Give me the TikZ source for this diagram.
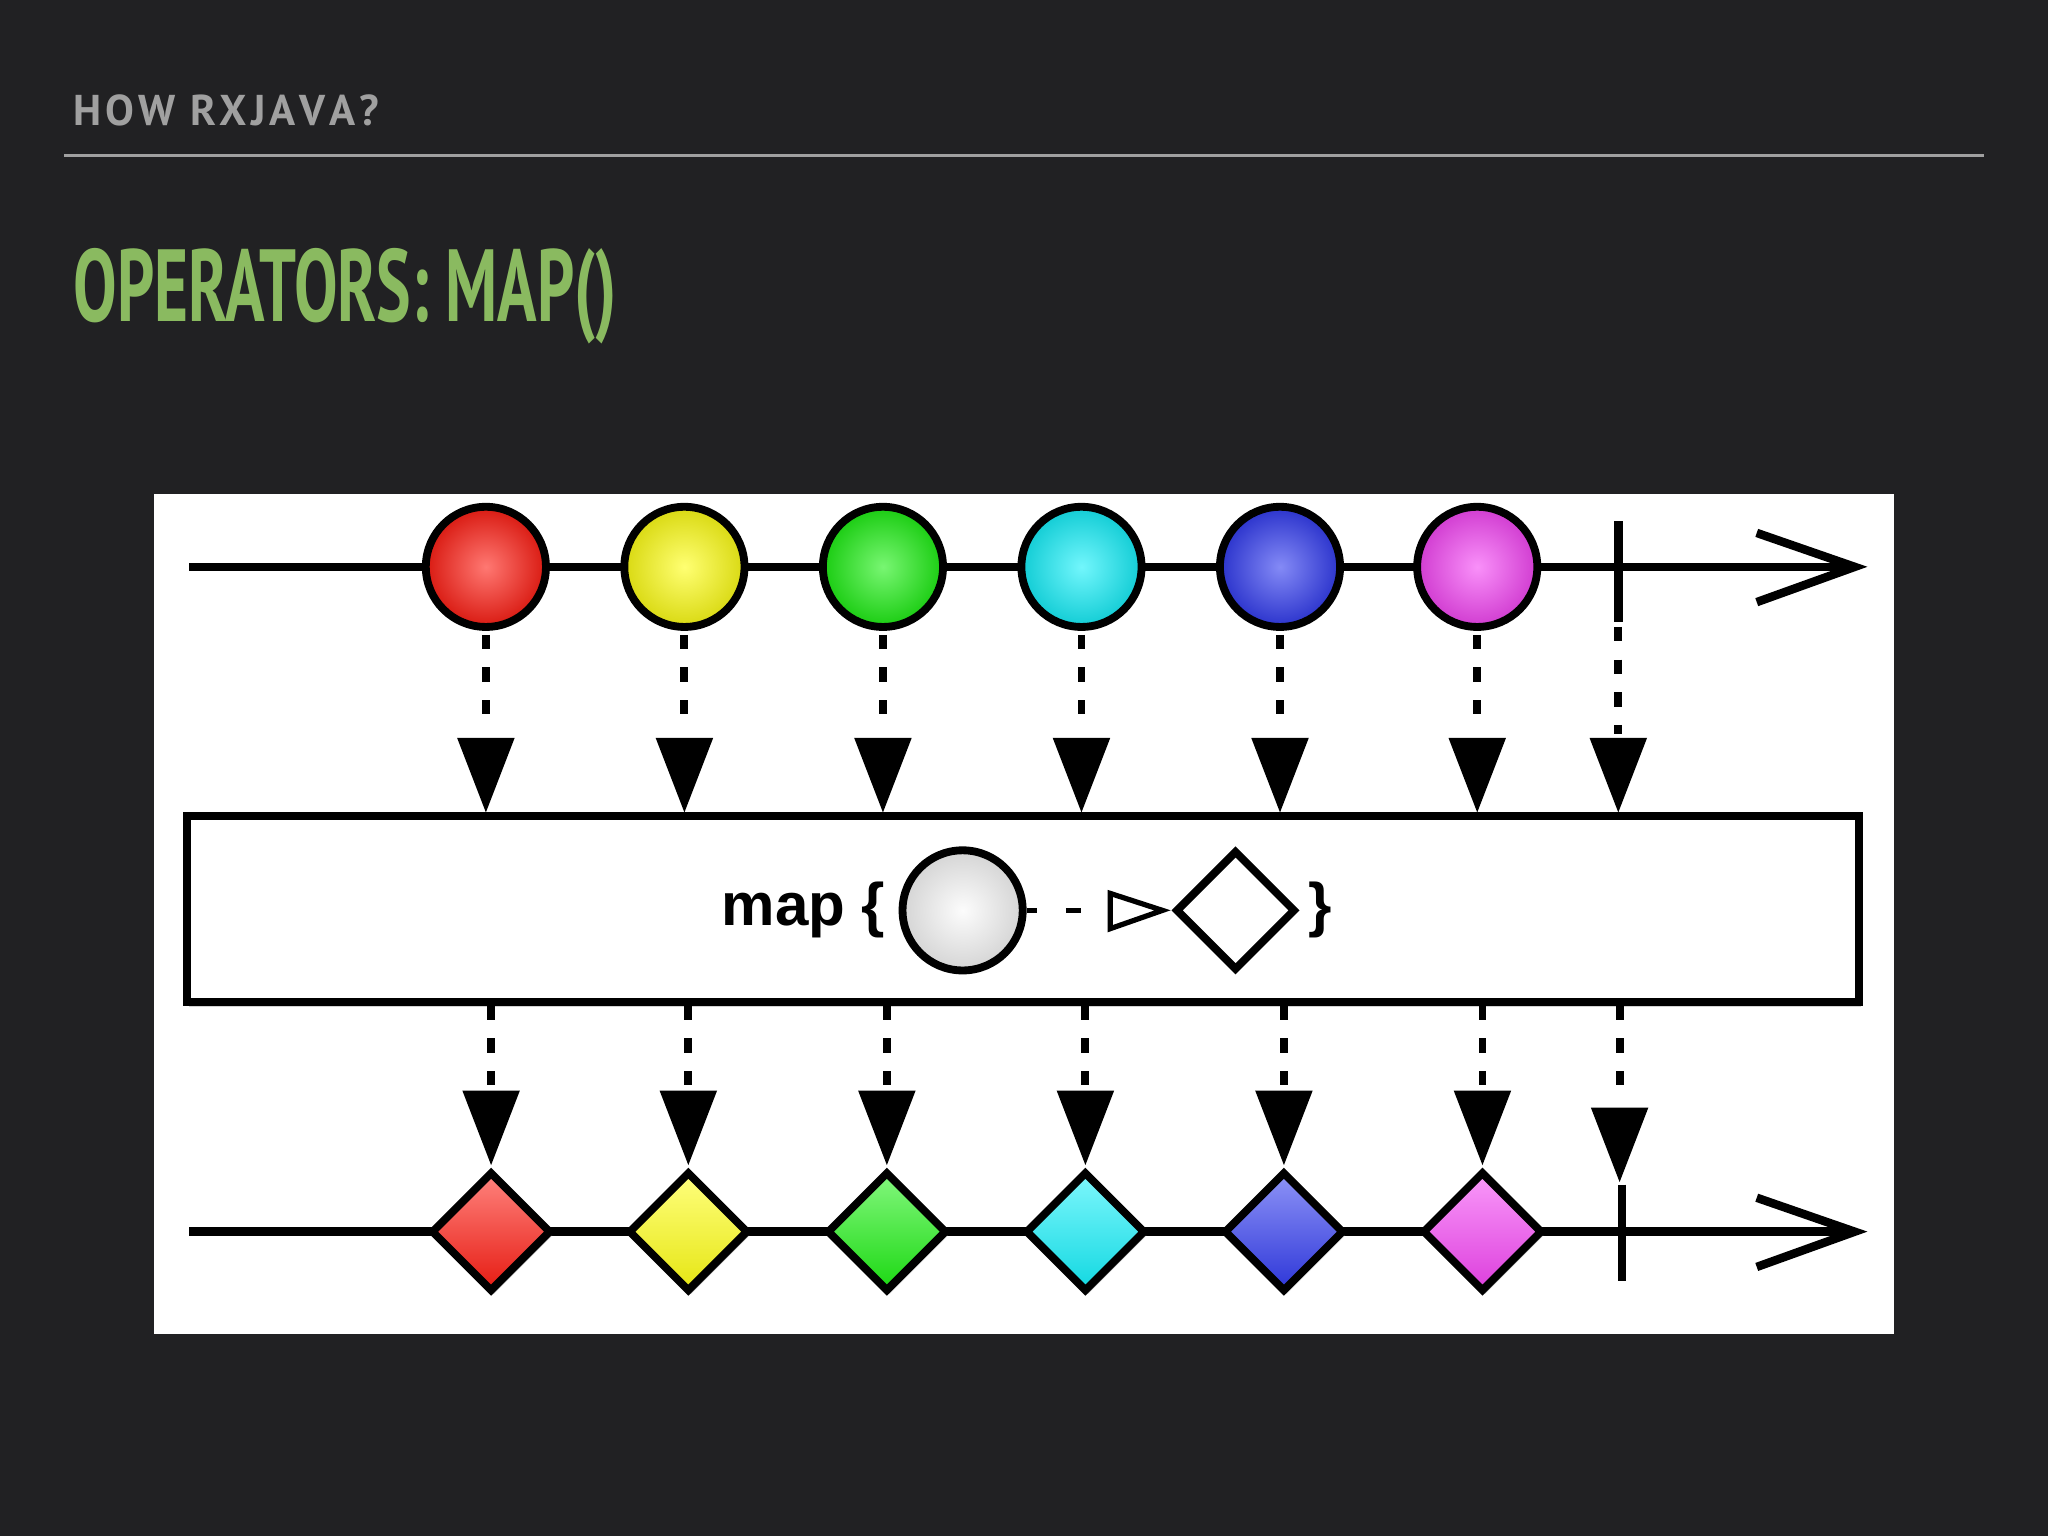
\documentclass[tikz,border=0pt]{standalone}
\usepackage{fontspec}
\setmainfont{Liberation Sans}
\newfontfamily\ptsans{PT Sans}
\usetikzlibrary{arrows.meta,shadows,shapes.geometric}
\definecolor{bgc}{RGB}{33,33,35}
\definecolor{ttl}{RGB}{138,186,96}
\definecolor{hdr}{RGB}{160,160,160}
\definecolor{cR}{RGB}{255,30,20}
\definecolor{cY}{RGB}{255,255,20}
\definecolor{cG}{RGB}{30,240,20}
\definecolor{cC}{RGB}{20,240,250}
\definecolor{cB}{RGB}{50,60,240}
\definecolor{cM}{RGB}{245,70,245}
\definecolor{cW}{RGB}{250,250,250}
\tikzset{
  ln/.style={line width=6.5pt,black},
  dots/.style={line width=6pt,black,dash pattern=on 11pt off 14pt},
  tri/.style={fill=black},
  ball/.style={circle,minimum size=92pt,inner sep=0pt,draw=black,line width=6pt,inner color=#1!60!white,outer color=#1!85!black},
  dia/.style={diamond,minimum size=92pt,inner sep=0pt,draw=black,line width=6pt,aspect=1},
  cdia/.style={dia,top color=#1!55!white,bottom color=#1!90!black,drop shadow={opacity=0.3,shadow xshift=2pt,shadow yshift=-3pt}},
}
\begin{document}
\begin{tikzpicture}[x=1pt,y=-1pt]
\fill[bgc] (0,0) rectangle (1568,1176);
\useasboundingbox (0,0) rectangle (1568,1176);
\node[anchor=base west,inner sep=0pt,text=hdr,font=\ptsans\bfseries\fontsize{33}{33}\selectfont] (hdr) at (56,96) {H\kern3pt O\kern3pt W\kern3pt\ R\kern3pt X\kern3pt J\kern3pt A\kern3pt V\kern3pt A\kern3pt ?};
\draw[hdr,line width=2.5pt] (49,119) -- (1519,119);
\node[anchor=base west,inner sep=0pt,text=ttl] (ttl) at (56,246) {\resizebox{416pt}{56pt}{\ptsans\bfseries OPERATORS: MAP()}};
\fill[white] (118,378) rectangle (1450,1021);
\coordinate (t0) at (145,434); \coordinate (t1) at (1420,434);
\draw[ln] (t0) -- (t1);
\draw[ln,line join=miter] (1345,408) -- (t1) -- (1345,461);
\draw[ln] (1239,399) -- (1239,476);
\coordinate (b0) at (145,943); \coordinate (b1) at (1420,943);
\draw[ln] (b0) -- (b1);
\draw[ln,line join=miter] (1345,917) -- (b1) -- (1345,970);
\draw[ln] (1242,907) -- (1242,981);
\node[draw=black,line width=6pt,fill=white,minimum width=1280pt,minimum height=142pt,drop shadow={opacity=0.35,shadow xshift=2pt,shadow yshift=-4pt}] (box) at (783,696) {};
\foreach \x/\xb/\c [count=\i] in {372/376/cR,524/527/cY,676/679/cG,828/831/cC,980/983/cB,1131/1135/cM}{
  \draw[dots] (\x,486) -- (\x,555);
  \fill[tri] (\x-22,565) -- (\x+22,565) -- (\x,622) -- cycle;
  \draw[dots] (\xb,770) -- (\xb,832);
  \fill[tri] (\xb-22,835) -- (\xb+22,835) -- (\xb,892) -- cycle;
  \node[ball=\c] (c\i) at (\x,434) {};
  \node[cdia=\c] (d\i) at (\xb,943) {};
}
\draw[dots] (1239,480) -- (1239,562);
\fill[tri] (1217,565) -- (1261,565) -- (1239,622) -- cycle;
\draw[dots] (1240,770) -- (1240,845);
\fill[tri] (1218,848) -- (1262,848) -- (1240,905) -- cycle;
\node[font=\bfseries\fontsize{46}{46}\selectfont,anchor=east,inner sep=0pt] (mt) at (678,697) {map \{};
\node[ball=cW] (mc) at (737,697) {};
\draw[line width=4pt] (mc.east) -- ++(8,0);
\draw[line width=4pt] (816,697) -- (828,697);
\draw[line width=4pt,line join=miter] (850,684) -- (890,697) -- (850,711) -- cycle;
\node[dia,fill=white] (md) at (946,697) {};
\node[font=\bfseries\fontsize{46}{46}\selectfont,inner sep=0pt] (mb) at (1011,697) {\}};
\end{tikzpicture}
\end{document}
